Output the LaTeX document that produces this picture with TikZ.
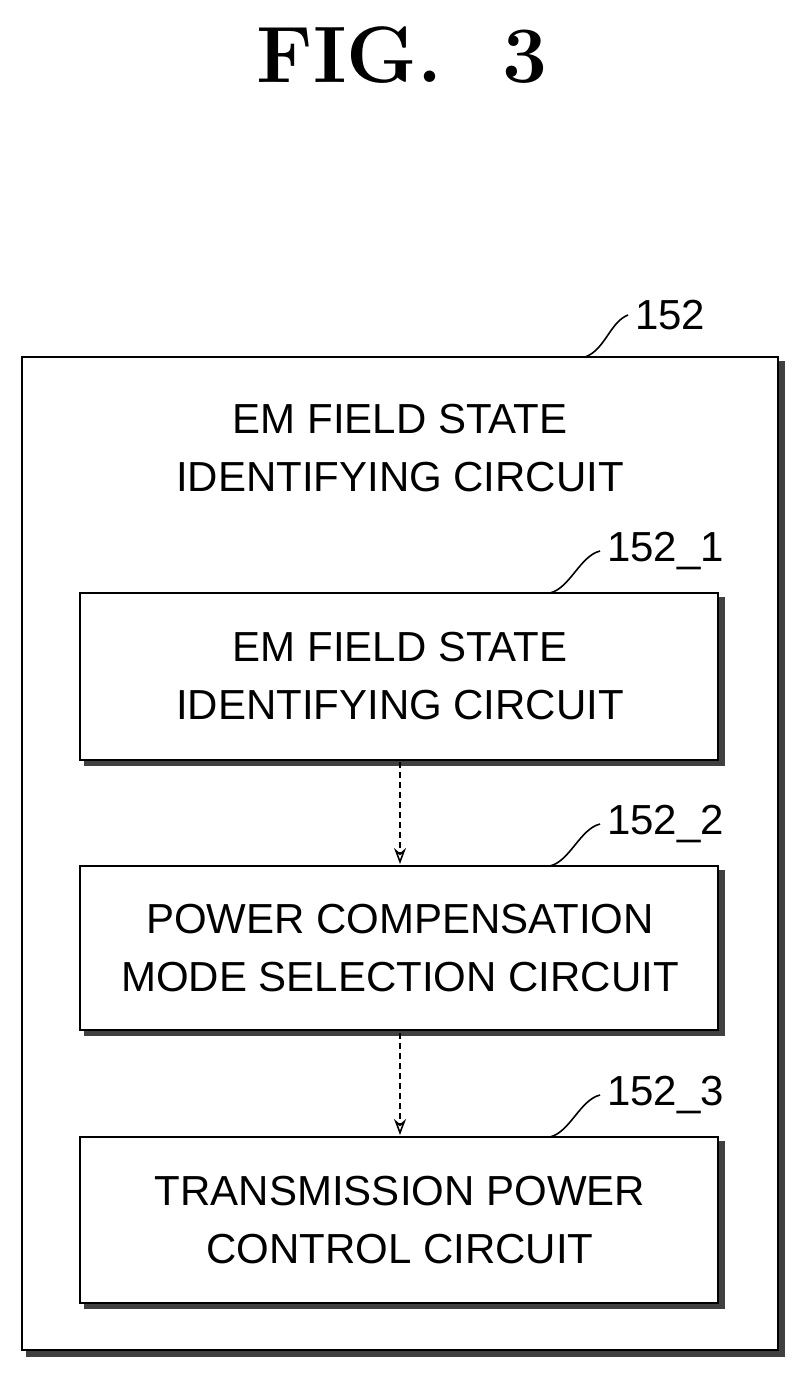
\documentclass[tikz,border=0pt]{standalone}
\usepackage{fontspec}
\setsansfont{Liberation Sans}
\usetikzlibrary{arrows.meta}
\begin{document}
\begin{tikzpicture}[x=0.5pt,y=-0.5pt,
  box/.style={draw,line width=1.2pt},
  shadow/.style={line width=3pt,draw=black!75},
  txt/.style={font=\sffamily\fontsize{21}{29}\selectfont,align=center},
  lbl/.style={font=\sffamily\fontsize{21}{24}\selectfont},
  lead/.style={line width=0.8pt},
  arr/.style={line width=0.8pt,densely dashed,-{Stealth[length=8pt,width=6pt,open]}}]
\useasboundingbox (0,0) rectangle (804,1376);
\node[font=\bfseries\fontsize{40}{44}\selectfont] (title) at (402,55) {FIG.\ \ 3};
% outer
\draw[shadow] (26,1354) -- (782,1354) -- (782,361);
\draw[box] (22,357) rectangle (778,1350);
\node[txt] (t0) at (400,448) {EM FIELD STATE\\IDENTIFYING CIRCUIT};
\node[lbl,anchor=west] (l0) at (628,315) {152};
\coordinate (c0) at (585,357);
\draw[lead] (c0) .. controls (605,350) and (610,322) .. (l0.west);
% boxes
\foreach \n/\ya/\yb/\t in {1/593/760/{EM FIELD STATE\\IDENTIFYING CIRCUIT},2/866/1030/{POWER COMPENSATION\\MODE SELECTION CIRCUIT},3/1137/1303/{TRANSMISSION POWER\\CONTROL CIRCUIT}}{
  \draw[shadow] (84,\yb+3) -- (722,\yb+3) -- (722,\ya+4);
  \draw[box] (80,\ya) rectangle (718,\yb);
  \node[txt] (b\n) at (400,{(\ya+\yb)/2}) {\t};
  \node[lbl,anchor=west] (l\n) at (600,\ya-42) {152\_\n};
  \coordinate (c\n) at (550,\ya);
  \draw[lead] (c\n) .. controls (570,\ya-5) and (580,\ya-37) .. (l\n.west);
}
\coordinate (a1) at (400,762); \coordinate (a2) at (400,864);
\coordinate (a3) at (400,1033); \coordinate (a4) at (400,1135);
\draw[arr] (a1) -- (a2);
\draw[arr] (a3) -- (a4);
\end{tikzpicture}
\end{document}
